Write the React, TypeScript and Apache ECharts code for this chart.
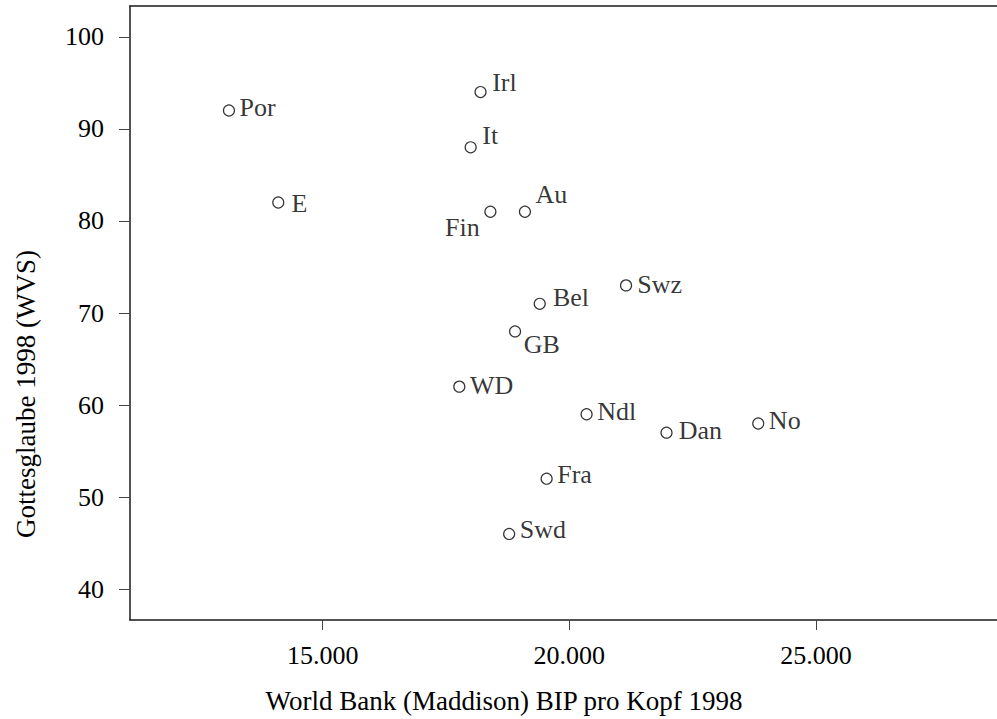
import React, { useEffect, useRef } from "react";
import * as echarts from "echarts";

// ---- data ----
const countries = ["Por", "E", "Irl", "It", "Fin", "Au", "Bel", "Swz", "GB", "WD", "Ndl", "Fra", "Swd", "Dan", "No"];
const gdp = [13100, 14100, 18200, 18000, 18400, 19100, 19400, 21150, 18900, 17770, 20350, 19540, 18780, 21970, 23830];
const belief = [92, 82, 94, 88, 81, 81, 71, 73, 68, 62, 59, 52, 46, 57, 58];
const xTicks = [15000, 20000, 25000];
const yTicks = [40, 50, 60, 70, 80, 90, 100];
const xTitle = "World Bank (Maddison) BIP pro Kopf 1998";
const yTitle = "Gottesglaube 1998 (WVS)";

// ---- label placement (style only) ----
const labelOffsets: number[][] = [
  [0, -3], [2.7, 0.5], [1, -10], [1, -12], [0, 16], [0, -17.5], [2.6, -6.6], [0.7, -0.5],
  [-2, 13.5], [0, -1], [0, -3], [0, -4], [0, -4], [1.6, -2.3], [0, -3],
];
const leftLabels = ["Fin"];

const FONT = "'Liberation Serif', 'Times New Roman', serif";
const X_MIN = 11094;
const X_MAX = 28670;
const Y_MIN = 36.65;
const Y_MAX = 103.35;

function fmt(v: number) {
  return String(Math.round(v)).replace(/\B(?=(\d{3})+(?!\d))/g, ".");
}

export default function App() {
  const ref = useRef<HTMLDivElement>(null);
  useEffect(() => {
    if (!ref.current) return;
    const chart = echarts.init(ref.current, null, { renderer: "svg" });
    const data = countries.map((c, i) => ({
      name: c,
      value: [gdp[i], belief[i]],
      label: {
        position: leftLabels.includes(c) ? "left" : "right",
        offset: labelOffsets[i],
      },
    }));
    const lineStyle = { color: "#1a1a1a", width: 1.5 };
    chart.setOption({
      animation: false,
      backgroundColor: "#ffffff",
      grid: { left: 130, top: 6, right: 0, bottom: 99 },
      xAxis: [
        {
          type: "value",
          min: X_MIN,
          max: X_MAX,
          axisLine: { show: true, lineStyle },
          splitLine: { show: false },
          axisTick: {
            show: true,
            customValues: xTicks,
            length: 10,
            lineStyle: { color: "#444", width: 1 },
          },
          axisLabel: {
            customValues: xTicks,
            formatter: (v: number) => fmt(v),
            margin: 22,
            color: "#000",
            fontSize: 26,
            fontFamily: FONT,
          },
        },
        {
          type: "value",
          position: "top",
          min: X_MIN,
          max: X_MAX,
          axisLine: { show: true, lineStyle },
          axisTick: { show: false },
          axisLabel: { show: false },
          splitLine: { show: false },
        },
      ],
      yAxis: {
        type: "value",
        min: Y_MIN,
        max: Y_MAX,
        axisLine: { show: true, lineStyle },
        splitLine: { show: false },
        axisTick: {
          show: true,
          customValues: yTicks,
          length: 11,
          lineStyle: { color: "#444", width: 1 },
        },
        axisLabel: {
          customValues: yTicks,
          margin: 26,
          color: "#000",
          fontSize: 26,
          fontFamily: FONT,
        },
      },
      graphic: [
        {
          type: "text",
          x: 504,
          y: 701,
          style: {
            text: xTitle,
            fill: "#000",
            font: `27px ${FONT}`,
            align: "center",
            verticalAlign: "middle",
            textAlign: "center",
            textVerticalAlign: "middle",
          },
        },
        {
          type: "text",
          x: 26,
          y: 394,
          rotation: Math.PI / 2,
          style: {
            text: yTitle,
            fill: "#000",
            font: `27px ${FONT}`,
            align: "center",
            verticalAlign: "middle",
            textAlign: "center",
            textVerticalAlign: "middle",
          },
        },
      ],
      series: [
        {
          type: "scatter",
          xAxisIndex: 0,
          data,
          symbol: "circle",
          symbolSize: 11,
          itemStyle: { color: "#ffffff", borderColor: "#000", borderWidth: 1.2 },
          label: {
            show: true,
            formatter: "{b}",
            distance: 4.5,
            color: "#000",
            fontSize: 26,
            fontFamily: FONT,
          },
        },
      ],
    });
    return () => chart.dispose();
  }, []);
  return (
    <div
      ref={ref}
      style={{ position: "fixed", left: 0, top: 0, width: 997, height: 719 }}
    />
  );
}
